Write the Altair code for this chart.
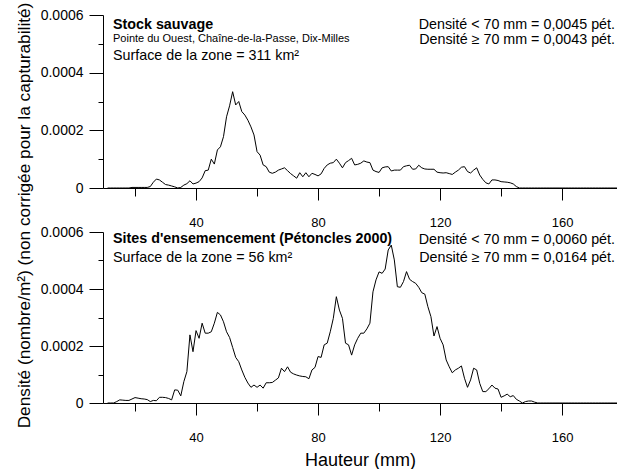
import altair as alt
import pandas as pd

FONT = "Liberation Sans"

# Shell height (mm), one value per mm
HAUTEUR = list(range(11, 179))

# Density in units of 1e-4 individuals/m^2 (mm 11 .. 178)
STOCK_SAUVAGE = [
    0, 0, 0, 0, 0, 0, 0, 0, 0.02, 0.02,                 # 11-20
    0.02, 0.02, 0.02, 0.02, 0.05, 0.20, 0.31, 0.28, 0.20, 0.12,   # 21-30
    0.10, 0.07, 0.04, 0.00, 0.02, 0.10, 0.15, 0.25, 0.14, 0.17,   # 31-40
    0.22, 0.35, 0.60, 0.62, 1.00, 0.83, 1.32, 1.43, 1.78, 2.47,   # 41-50
    2.85, 3.34, 2.88, 3.00, 2.65, 2.53, 2.35, 2.12, 1.84, 1.26,   # 51-60
    1.14, 0.80, 0.74, 0.55, 0.51, 0.55, 0.62, 0.66, 0.70, 0.60,   # 61-70
    0.50, 0.42, 0.34, 0.53, 0.39, 0.53, 0.39, 0.51, 0.47, 0.42,   # 71-80
    0.49, 0.68, 0.80, 0.86, 0.88, 1.00, 0.86, 0.70, 0.88, 0.95,   # 81-90
    1.03, 0.80, 0.82, 0.86, 0.94, 0.90, 0.88, 0.62, 0.57, 0.54,   # 91-100
    0.70, 0.73, 0.74, 0.59, 0.62, 0.62, 0.62, 0.74, 0.77, 0.79,   # 101-110
    0.65, 0.66, 0.79, 0.70, 0.66, 0.65, 0.65, 0.65, 0.55, 0.53,   # 111-120
    0.52, 0.53, 0.50, 0.47, 0.55, 0.62, 0.72, 0.74, 0.57, 0.52,   # 121-130
    0.62, 0.70, 0.45, 0.30, 0.18, 0.14, 0.28, 0.28, 0.26, 0.22,   # 131-140
    0.21, 0.20, 0.18, 0.14, 0.05, 0, 0, 0, 0, 0,                  # 141-150
    0, 0, 0, 0, 0, 0, 0, 0, 0, 0,                                 # 151-160
    0, 0, 0, 0, 0, 0, 0, 0, 0, 0,                                 # 161-170
    0, 0, 0, 0, 0, 0, 0, 0,                                       # 171-178
]

ENSEMENCEMENT = [
    0, 0, 0, 0.05, 0.11, 0.10, 0.09, 0.09, 0.14, 0.19,            # 11-20
    0.17, 0.15, 0.14, 0.12, 0.05, 0.09, 0.08, 0.20, 0.20, 0.19,   # 21-30
    0.16, 0.11, 0.46, 0.45, 0.25, 0.75, 1.10, 2.39, 1.80, 2.54,   # 31-40
    2.27, 2.80, 2.45, 2.45, 2.50, 2.80, 3.18, 3.09, 2.85, 2.50,   # 41-50
    2.30, 1.95, 1.60, 1.45, 1.16, 0.90, 0.70, 0.55, 0.63, 0.55,   # 51-60
    0.63, 0.52, 0.71, 0.71, 0.72, 0.80, 0.88, 1.22, 1.10, 1.27,   # 61-70
    1.08, 1.02, 0.98, 0.95, 0.93, 0.92, 0.85, 1.16, 1.25, 1.63,   # 71-80
    1.60, 2.04, 2.10, 2.50, 2.97, 3.73, 3.26, 2.97, 2.10, 2.04,   # 81-90
    1.68, 2.04, 2.27, 2.45, 2.45, 2.60, 2.80, 3.90, 4.32, 4.60,   # 91-100
    4.55, 4.70, 5.37, 5.54, 5.02, 4.08, 4.06, 4.26, 4.61, 4.34,   # 101-110
    4.26, 4.20, 4.06, 3.87, 3.82, 3.38, 3.03, 2.35, 2.68, 2.27,   # 111-120
    2.04, 1.51, 1.27, 1.06, 1.16, 1.22, 1.30, 0.87, 0.55, 0.81,   # 121-130
    1.22, 1.16, 0.69, 0.40, 0.40, 0.50, 0.63, 0.52, 0.49, 0.20,   # 131-140
    0.25, 0.31, 0.22, 0.26, 0.13, 0.07, 0, 0.05, 0.07, 0.07,      # 141-150
    0.03, 0, 0, 0, 0, 0, 0, 0, 0, 0,                              # 151-160
    0, 0, 0, 0, 0, 0, 0, 0, 0, 0,                                 # 161-170
    0, 0, 0, 0, 0, 0, 0, 0,                                       # 171-178
]

X_MAJOR = [40, 80, 120, 160]
X_MINOR = [20, 60, 100, 140]
Y_MAJOR = [0, 0.0002, 0.0004, 0.0006]
Y_MINOR = [0.0001, 0.0003, 0.0005]

Y_TITLE = "Densité (nombre/m²) (non corrigée pour la capturabilité)"
X_TITLE = "Hauteur (mm)"

TOP_TITLE = "Stock sauvage"
TOP_SUB = "Pointe du Ouest, Chaîne-de-la-Passe, Dix-Milles"
TOP_AREA = "Surface de la zone = 311 km²"
TOP_DENS = ["Densité < 70 mm = 0,0045 pét.", "Densité ≥ 70 mm = 0,0043 pét."]

BOT_TITLE = "Sites d'ensemencement (Pétoncles 2000)"
BOT_AREA = "Surface de la zone = 56 km²"
BOT_DENS = ["Densité < 70 mm = 0,0060 pét.", "Densité ≥ 70 mm = 0,0164 pét."]

W = 514


def txt(s, x, y, size=14.3, bold=False, align="left"):
    return alt.Chart(alt.Data(values=[{"t": s}])).mark_text(
        align=align, baseline="alphabetic", fontSize=size, font=FONT,
        fontWeight="bold" if bold else "normal", color="black",
    ).encode(text="t:N", x=alt.value(x), y=alt.value(y))


def panel(values, h, texts, ytitle, xtitle):
    df = pd.DataFrame({"h": HAUTEUR, "d": [v * 1e-4 for v in values]})
    base = alt.Chart(df)
    xscale = alt.Scale(domain=[9.5, 178], nice=False, zero=False)
    yscale = alt.Scale(domain=[0, 0.0006], nice=False)
    yaxis_kw = dict(values=Y_MAJOR, tickSize=14, labelPadding=6, labelFontSize=14,
                    labelExpr="datum.value == 0 ? '0' : format(datum.value, '.4f')",
                    orient="left")
    if ytitle:
        yaxis = alt.Axis(title=ytitle, titleX=-70, titleY=200, titleFontSize=17.25,
                         titleBaseline="bottom", **yaxis_kw)
    else:
        yaxis = alt.Axis(title=None, **yaxis_kw)
    xaxis_kw = dict(values=X_MAJOR, tickSize=12, labelPadding=16, labelFontSize=13,
                    orient="bottom")
    if xtitle:
        xaxis = alt.Axis(title=xtitle, titleFontSize=18, titlePadding=7, **xaxis_kw)
    else:
        xaxis = alt.Axis(title=None, **xaxis_kw)
    line = base.mark_line(color="black", strokeWidth=1, clip=True).encode(
        x=alt.X("h:Q", scale=xscale, axis=xaxis),
        y=alt.Y("d:Q", scale=yscale, axis=yaxis),
    )
    minor = base.mark_line(opacity=0).encode(
        x=alt.X("h:Q", axis=alt.Axis(values=X_MINOR, tickSize=8, labels=False,
                                     domain=False, title=None, orient="bottom")),
        y=alt.Y("d:Q", axis=alt.Axis(values=Y_MINOR, tickSize=5, labels=False,
                                     domain=False, title=None, orient="left")),
    )
    return alt.layer(line, minor, *texts).resolve_axis(
        x="independent", y="independent"
    ).properties(width=W, height=h)


top_texts = [
    txt(TOP_TITLE, 10, 13.5, 14.3, True),
    txt(TOP_SUB, 10, 27, 11),
    txt(TOP_AREA, 10, 45),
    txt(TOP_DENS[0], 512, 13.5, align="right"),
    txt(TOP_DENS[1], 512, 28.5, align="right"),
]
bot_texts = [
    txt(BOT_TITLE, 10, 11, 14.3, True),
    txt(BOT_AREA, 10, 29.5),
    txt(BOT_DENS[0], 512, 11.5, align="right"),
    txt(BOT_DENS[1], 512, 29.5, align="right"),
]

top = panel(STOCK_SAUVAGE, 173, top_texts, Y_TITLE, None)
bottom = panel(ENSEMENCEMENT, 171, bot_texts, None, X_TITLE)

chart = alt.vconcat(top, bottom, spacing=44, bounds="flush").properties(
    padding={"left": 14, "top": 2, "right": 0, "bottom": 0}
).configure_view(stroke=None).configure_axis(
    labelFont=FONT, titleFont=FONT, labelColor="black", titleColor="black",
    domainColor="black", tickColor="black", grid=False, titleFontWeight="normal",
    domainWidth=1, tickWidth=1,
)

chart.save("out.html", embed_options={"renderer": "svg", "actions": False})
